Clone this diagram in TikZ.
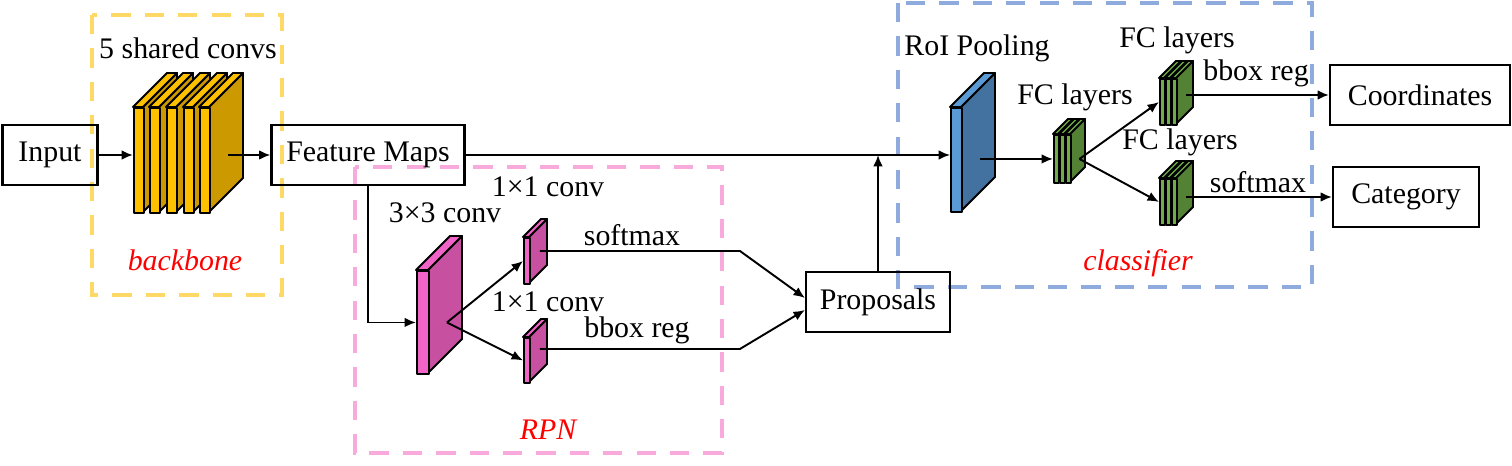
\documentclass[tikz,border=0pt]{standalone}
\usepackage{fontspec}
\setmainfont{Liberation Serif}
\usetikzlibrary{arrows.meta,calc}

\definecolor{yfront}{RGB}{255,192,0}
\definecolor{yside}{RGB}{204,153,0}
\definecolor{pfront}{RGB}{240,100,200}
\definecolor{pside}{RGB}{200,80,160}
\definecolor{bfront}{RGB}{91,155,213}
\definecolor{bside}{RGB}{68,114,160}
\definecolor{gfront}{RGB}{112,173,71}
\definecolor{gside}{RGB}{84,130,53}
\definecolor{ygroup}{RGB}{255,217,102}
\definecolor{pgroup}{RGB}{248,170,220}
\definecolor{bgroup}{RGB}{143,170,220}

\tikzset{
  box/.style={draw, line width=1.2pt, minimum height=1.2cm, inner sep=0pt},
  arr/.style={-{Latex[length=6.5pt,width=5.5pt]}, line width=1.1pt},
  region/.style={line width=2.3pt, dash pattern=on 11pt off 8pt},
  slabline/.style={line width=1.1pt, line join=round},
  tag/.style={text=red, font=\fontsize{17}{20}\selectfont\itshape}
}

% name, x, y (front top left), width, height, depth, front colour, side colour
\newcommand{\fmslab}[8]{%
  \filldraw[slabline, fill=#8] (#2+#4,#3) -- ++(#6,-#6) -- ++(0,#5) -- ++(-#6,#6) -- cycle;
  \filldraw[slabline, fill=#7] (#2,#3) -- ++(#6,-#6) -- ++(#4,0) -- ++(-#6,#6) -- cycle;
  \node[slabline, draw, fill=#7, inner sep=0pt, anchor=north west,
        minimum width=#4*0.02cm, minimum height=#5*0.02cm] (#1) at (#2,#3) {};
  \coordinate (#1-out) at ($(#1.east)+(#6/2,0)$);
}

\begin{document}
\begin{tikzpicture}[x=0.02cm, y=-0.02cm, font=\fontsize{17}{20}\selectfont]
  \useasboundingbox (0,0) rectangle (1512,466);

  % dashed groups
  \draw[region, draw=ygroup] (92,15) rectangle (282,295);
  \draw[region, draw=pgroup] (355,167) rectangle (722,453);
  \draw[region, draw=bgroup] (898,3) rectangle (1312,287);

  \node[box, minimum width=1.9cm] (input) at (50,155) {Input};
  \node[box, minimum width=3.86cm] (fmap) at (368,155) {Feature Maps};
  \node[box, minimum width=2.88cm] (prop) at (878,302) {Proposals};
  \node[box, minimum width=3.6cm] (coord) at (1420,95) {Coordinates};
  \node[box, minimum width=2.92cm] (cat) at (1406,197) {Category};

  \foreach \i/\x in {1/133,2/149,3/166,4/183,5/199}
    \fmslab{c\i}{\x}{107}{10}{105}{34}{yfront}{yside};
  \fmslab{conv3}{416}{270}{12}{103}{34}{pfront}{pside}
  \fmslab{cls}{523}{237}{6}{46}{18}{pfront}{pside}
  \fmslab{reg}{523}{337}{6}{45}{18}{pfront}{pside}
  \fmslab{roi}{950}{107}{11}{104}{34}{bfront}{bside}
  \foreach \i/\x in {1/1053,2/1059,3/1065}
    \fmslab{fc\i}{\x}{134}{5}{48}{15}{gfront}{gside};
  \foreach \i/\x in {1/1159,2/1165,3/1171}
    \fmslab{ub\i}{\x}{78}{5}{46}{17}{gfront}{gside};
  \foreach \i/\x in {1/1159,2/1165,3/1171}
    \fmslab{lb\i}{\x}{178}{5}{46}{17}{gfront}{gside};

  \node (lshared) at (188,48) {5 shared convs};
  \node[tag] (lbackbone) at (185,260) {backbone};
  \node (lconv3) at (445,213) {3×3 conv};
  \node (lcls) at (548,187) {1×1 conv};
  \node (lreg) at (548,302) {1×1 conv};
  \node (lsoft) at (632,235) {softmax};
  \node (lbbox) at (637,330) {bbox reg};
  \node[tag] (lrpn) at (548,430) {RPN};
  \node (lroi) at (977,48) {RoI Pooling};
  \node (lfc) at (1075,97) {FC layers};
  \node (lfcup) at (1177,40) {FC layers};
  \node (lbboxup) at (1256,73) {bbox reg};
  \node (lfclow) at (1180,142) {FC layers};
  \node (lsoftlow) at (1258,182) {softmax};
  \node[tag] (lclassifier) at (1138,263) {classifier};

  \draw[arr] (input) -- (input -| c1.west);
  \draw[arr] (fmap.west -| c5-out) -- (fmap.west);
  \draw[arr] (fmap.east) -- (fmap.east -| roi.west);
  \draw[arr] (fmap.south) |- (conv3.west);
  \draw[arr] (conv3-out) -- (cls.west);
  \draw[arr] (conv3-out) -- (reg.west);
  \draw[arr] ([yshift=0.2cm]cls-out) -- ++(200,0) -- ([yshift=0.08cm]prop.west);
  \draw[arr] ([yshift=0.23cm]reg-out) -- ++(200,0) -- ([yshift=-0.16cm]prop.west);
  \draw[arr] (prop.north) -- (prop.north |- fmap.east);
  \draw[arr] (fc1.west -| roi-out) -- (fc1.west);
  \draw[arr] (fc3-out) -- (ub1.west);
  \draw[arr] (fc3-out) -- (lb1.west);
  \draw[arr] (coord.west -| ub3-out) -- (coord.west);
  \draw[arr] (cat.west -| lb3-out) -- (cat.west);

\end{tikzpicture}
\end{document}
